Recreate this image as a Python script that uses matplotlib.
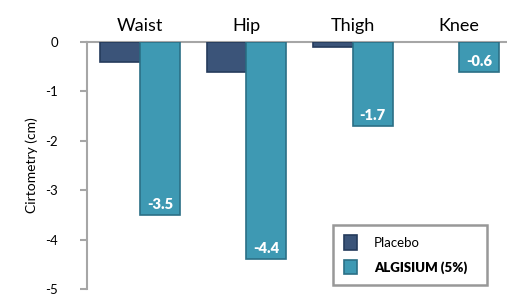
import matplotlib
matplotlib.use("Agg")
import matplotlib.pyplot as plt
import numpy as np
from matplotlib.patches import Patch

categories = ["Waist", "Hip", "Thigh", "Knee"]
placebo = [-0.4, -0.6, -0.1, 0.0]
algisium = [-3.5, -4.4, -1.7, -0.6]
algisium_labels = ["-3.5", "-4.4", "-1.7", "-0.6"]
yticks = [0, -1, -2, -3, -4, -5]
ytick_labels = ["0", "-1", "-2", "-3", "-4", "-5"]

plt.rcParams['font.family'] = ['Lato', 'DejaVu Sans']

fig = plt.figure(figsize=(5.07, 2.97), dpi=100)
ax = fig.add_axes([87/507, 1-289/297, 420/507, (289-42)/297])

c_pl = "#3B5479"
e_pl = "#253B5C"
c_al = "#3E99B3"
e_al = "#2B6F86"
x = np.arange(len(categories))
w = 0.375
pl_bars = ax.bar(x - w/2, placebo, w, color=c_pl, edgecolor=e_pl, linewidth=1.2, zorder=2)
for b, v in zip(pl_bars, placebo):
    if v == 0:
        b.set_visible(False)
ax.bar(x + w/2, algisium, w, color=c_al, edgecolor=e_al, linewidth=1.2, zorder=2)

for xi, v, lab in zip(x, algisium, algisium_labels):
    ax.text(xi + w/2, v + 0.08, lab, ha="center", va="bottom", color="white",
            fontsize=10.5, fontweight="heavy", zorder=3)

ax.set_xlim(-0.5, 3.45)
ax.set_ylim(-5, 0)
ax.set_yticks(yticks)
ax.set_yticklabels(ytick_labels, fontsize=9.5)
ax.xaxis.tick_top()
ax.set_xticks(x)
ax.set_xticklabels(categories, fontsize=13)
ax.tick_params(axis="x", length=0, pad=6)
ax.tick_params(axis="y", direction="out", length=5, width=1.5, color="#a6a6a6", pad=16)
for s in ["right", "bottom"]:
    ax.spines[s].set_visible(False)
for s in ["top", "left"]:
    ax.spines[s].set_color("#a6a6a6")
    ax.spines[s].set_linewidth(1.5)
ax.spines["top"].set_zorder(1)
ax.set_ylabel("Cirtometry (cm)", fontsize=10, labelpad=5)

handles = [Patch(facecolor=c_pl, edgecolor=e_pl, linewidth=1.2),
           Patch(facecolor=c_al, edgecolor=e_al, linewidth=1.2)]
leg = ax.legend(handles, ["Placebo", "ALGISIUM (5%)"], loc="lower left",
                bbox_to_anchor=((333-87)/420, (289-285)/247, (487-333)/420, (285-211)/247),
                mode="expand", fontsize=9.5, frameon=True, fancybox=False,
                handlelength=1.0, handleheight=1.3, labelspacing=0.8,
                handletextpad=1.3, borderpad=0.8, borderaxespad=0)
leg.get_frame().set_edgecolor("#7f7f7f")
leg.get_frame().set_linewidth(1.8)
leg.get_texts()[1].set_fontweight("heavy")

fig.savefig("out.png", dpi=100)
